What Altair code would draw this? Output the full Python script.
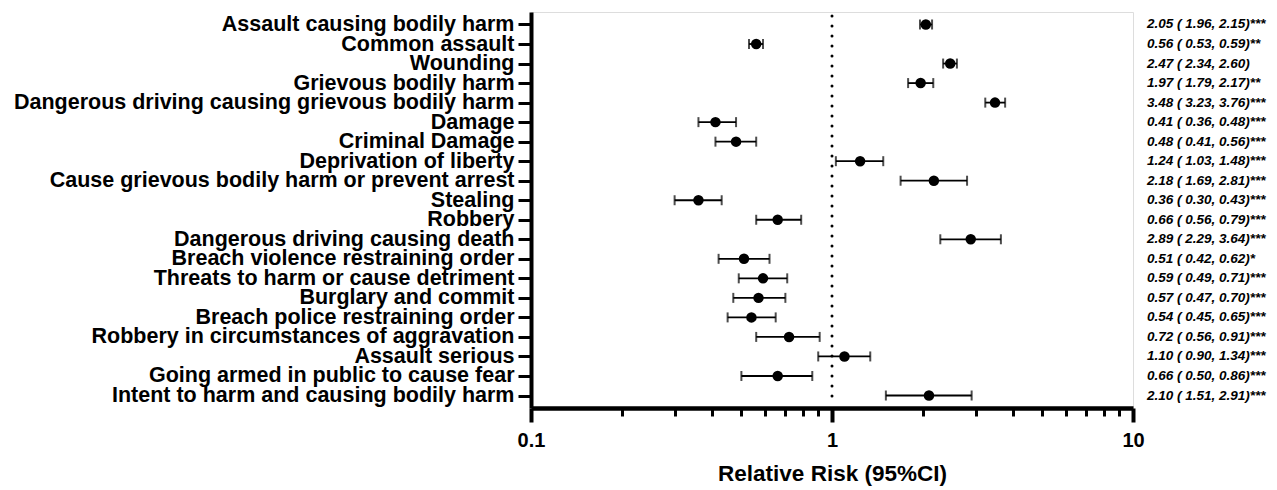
import altair as alt
import pandas as pd

categories = [
    "Assault causing bodily harm",
    "Common assault",
    "Wounding",
    "Grievous bodily harm",
    "Dangerous driving causing grievous bodily harm",
    "Damage",
    "Criminal Damage",
    "Deprivation of liberty",
    "Cause grievous bodily harm or prevent arrest",
    "Stealing",
    "Robbery",
    "Dangerous driving causing death",
    "Breach violence restraining order",
    "Threats to harm or cause detriment",
    "Burglary and commit",
    "Breach police restraining order",
    "Robbery in circumstances of aggravation",
    "Assault serious",
    "Going armed in public to cause fear",
    "Intent to harm and causing bodily harm",
]
rr = [2.05, 0.56, 2.47, 1.97, 3.48, 0.41, 0.48, 1.24, 2.18, 0.36,
      0.66, 2.89, 0.51, 0.59, 0.57, 0.54, 0.72, 1.10, 0.66, 2.10]
lower = [1.96, 0.53, 2.34, 1.79, 3.23, 0.36, 0.41, 1.03, 1.69, 0.30,
         0.56, 2.29, 0.42, 0.49, 0.47, 0.45, 0.56, 0.90, 0.50, 1.51]
upper = [2.15, 0.59, 2.60, 2.17, 3.76, 0.48, 0.56, 1.48, 2.81, 0.43,
         0.79, 3.64, 0.62, 0.71, 0.70, 0.65, 0.91, 1.34, 0.86, 2.91]
stars = ["***", "**", "", "**", "***", "***", "***", "***", "***", "***",
         "***", "***", "*", "***", "***", "***", "***", "***", "***", "***"]
major_ticks = [0.1, 1, 10]
minor_ticks = [0.2, 0.3, 0.4, 0.5, 0.6, 0.7, 0.8, 0.9, 2, 3, 4, 5, 6, 7, 8, 9]
reference_value = [1]

df = pd.DataFrame({"cat": categories, "rr": rr, "lo": lower, "hi": upper, "stars": stars})
df["label"] = [f"{a:.2f} ( {b:.2f}, {c:.2f}){s}" for a, b, c, s in zip(rr, lower, upper, stars)]

FONT = "Liberation Sans"
W, H = 602, 396

is_major = " || ".join(f"datum.value == {v}" for v in major_ticks)

xscale = alt.Scale(type="log", domain=[0.1, 10], nice=False)
yscale = alt.Scale(type="point", domain=categories, padding=0.64)

x_axis = alt.Axis(
    values=sorted(major_ticks + minor_ticks), title="Relative Risk (95%CI)", format="~g",
    labelExpr=f"({is_major}) ? datum.label : ''",
    domainWidth=4.5, domainColor="black", tickColor="black",
    tickWidth={"condition": {"test": is_major, "value": 4}, "value": 3},
    tickSize={"condition": {"test": is_major, "value": 14}, "value": 8},
    labelFont=FONT, labelFontSize=20, labelFontWeight="bold", labelColor="black",
    labelPadding=8, titleFont=FONT, titleFontSize=22.5, titleFontWeight="bold",
    titleColor="black", titlePadding=12, grid=False, labelFlush=False,
    labelOverlap=False,
)
y_axis = alt.Axis(
    title=None, domainWidth=4, domainColor="black", tickWidth=3, tickColor="black",
    tickSize=13, labelFont=FONT, labelFontSize=21.5, labelFontWeight="bold",
    labelColor="black", labelPadding=4, labelLimit=700, grid=False,
)

base = alt.Chart(df)

ci = base.mark_rule(color="black", strokeWidth=1.8).encode(
    x=alt.X("lo:Q", scale=xscale, axis=x_axis),
    x2="hi:Q",
    y=alt.Y("cat:N", scale=yscale, axis=y_axis, sort=categories),
)
cap_lo = base.mark_tick(color="black", size=10, thickness=2, orient="vertical").encode(
    x=alt.X("lo:Q", scale=xscale), y=alt.Y("cat:N", scale=yscale, sort=categories)
)
cap_hi = base.mark_tick(color="black", size=10, thickness=2, orient="vertical").encode(
    x=alt.X("hi:Q", scale=xscale), y=alt.Y("cat:N", scale=yscale, sort=categories)
)
pts = base.mark_circle(color="black", size=110, opacity=1).encode(
    x=alt.X("rr:Q", scale=xscale), y=alt.Y("cat:N", scale=yscale, sort=categories)
)
txt = base.mark_text(
    align="left", baseline="middle", font=FONT, fontSize=13.5,
    fontStyle="italic", fontWeight="bold", color="black",
).encode(
    x=alt.value(616), y=alt.Y("cat:N", scale=yscale, sort=categories), text="label:N"
)
ref = alt.Chart(pd.DataFrame({"v": reference_value})).mark_rule(
    color="black", strokeWidth=3, strokeDash=[0.1, 9.9], strokeCap="round"
).encode(
    x=alt.X("v:Q", scale=xscale),
    y=alt.value(4), y2=alt.value(H - 3),
)

chart = alt.layer(ci, ref, cap_lo, cap_hi, pts, txt).properties(
    width=W, height=H,
    autosize=alt.AutoSizeParams(type="none"),
    padding={"left": 523, "top": 4, "right": 136, "bottom": 78},
).configure_view(stroke=None).configure(font=FONT)

chart.save("out.html", embed_options={"renderer": "svg", "actions": False})
